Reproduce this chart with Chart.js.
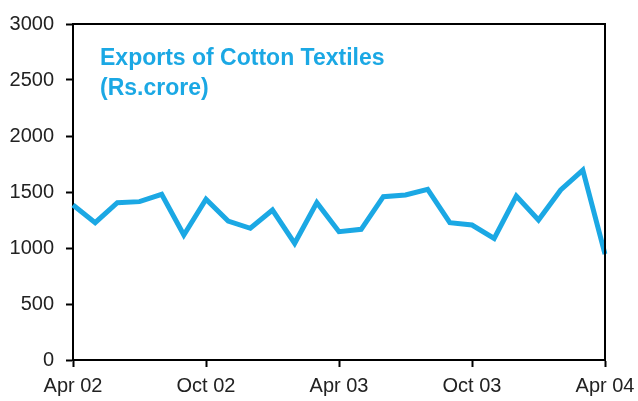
<!DOCTYPE html>
<html>
<head>
<meta charset="utf-8">
<script src="https://cdn.jsdelivr.net/npm/chart.js@4.4.1/dist/chart.umd.min.js"></script>
<style>
  html, body { margin: 0; padding: 0; background: #ffffff; }
  #wrap { position: relative; width: 638px; height: 401px; }
</style>
</head>
<body>
<div id="wrap"><canvas id="c" width="638" height="401"></canvas></div>
<script>
// ---- data ----
const months = [
  'Apr 02','May 02','Jun 02','Jul 02','Aug 02','Sep 02','Oct 02','Nov 02','Dec 02','Jan 03','Feb 03','Mar 03',
  'Apr 03','May 03','Jun 03','Jul 03','Aug 03','Sep 03','Oct 03','Nov 03','Dec 03','Jan 04','Feb 04','Mar 04',
  'Apr 04'
];
const exportsCotton = [
  1384, 1226, 1405, 1414, 1479, 1116, 1435, 1241, 1176, 1339, 1042, 1405,
  1146, 1167, 1458, 1473, 1524, 1226, 1205, 1086, 1464, 1250, 1518, 1696,
  946
];
const xTickLabels = ['Apr 02','Oct 02','Apr 03','Oct 03','Apr 04'];
const titleLines = ['Exports of Cotton Textiles', '(Rs.crore)'];

const BLUE = '#1BA8E4';

const framePlugin = {
  id: 'frame',
  afterDraw(chart) {
    const { ctx, chartArea: a } = chart;
    ctx.save();
    ctx.strokeStyle = '#000';
    ctx.lineWidth = 2;
    ctx.beginPath();
    ctx.moveTo(a.left, a.top);
    ctx.lineTo(a.right, a.top);
    ctx.lineTo(a.right, a.bottom);
    ctx.stroke();
    ctx.fillStyle = BLUE;
    ctx.font = 'bold 23px "Liberation Sans", Arial, sans-serif';
    ctx.textAlign = 'left';
    ctx.textBaseline = 'alphabetic';
    ctx.fillText(titleLines[0], a.left + 27, a.top + 41);
    ctx.fillText(titleLines[1], a.left + 27, a.top + 71);
    ctx.restore();
  }
};

new Chart(document.getElementById('c'), {
  type: 'line',
  data: {
    labels: months,
    datasets: [{
      data: exportsCotton,
      borderColor: BLUE,
      borderWidth: 5,
      pointRadius: 0,
      tension: 0,
      fill: false,
      borderJoinStyle: 'miter'
    }]
  },
  options: {
    responsive: false,
    animation: false,
    events: [],
    layout: { padding: { left: 0, top: 24, right: 33, bottom: 0 } },
    plugins: { legend: { display: false }, tooltip: { enabled: false }, title: { display: false } },
    scales: {
      x: {
        type: 'category',
        offset: false,
        grid: { display: true, drawOnChartArea: false, drawTicks: true, tickLength: 7, tickColor: '#000', tickWidth: 2 },
        border: { display: true, color: '#000', width: 2 },
        ticks: {
          autoSkip: false,
          maxRotation: 0,
          color: '#222',
          padding: 7,
          font: { family: '"Liberation Sans", Arial, sans-serif', size: 20 },
          callback: function(value, index) {
            return index % 6 === 0 ? xTickLabels[index / 6] : null;
          }
        },
        afterFit(scale) { scale.height = 41; scale.paddingLeft = 0; scale.paddingRight = 0; }
      },
      y: {
        min: 0,
        max: 3000,
        grid: { display: true, drawOnChartArea: false, drawTicks: true, tickLength: 7, tickColor: '#000', tickWidth: 2 },
        border: { display: true, color: '#000', width: 2 },
        ticks: {
          stepSize: 500,
          color: '#222',
          padding: 12,
          font: { family: '"Liberation Sans", Arial, sans-serif', size: 20 },
          callback: function(value) { return String(value); }
        },
        afterFit(scale) { scale.width = 73; scale.paddingTop = 0; scale.paddingBottom = 0; }
      }
    }
  },
  plugins: [framePlugin]
});
</script>
</body>
</html>
